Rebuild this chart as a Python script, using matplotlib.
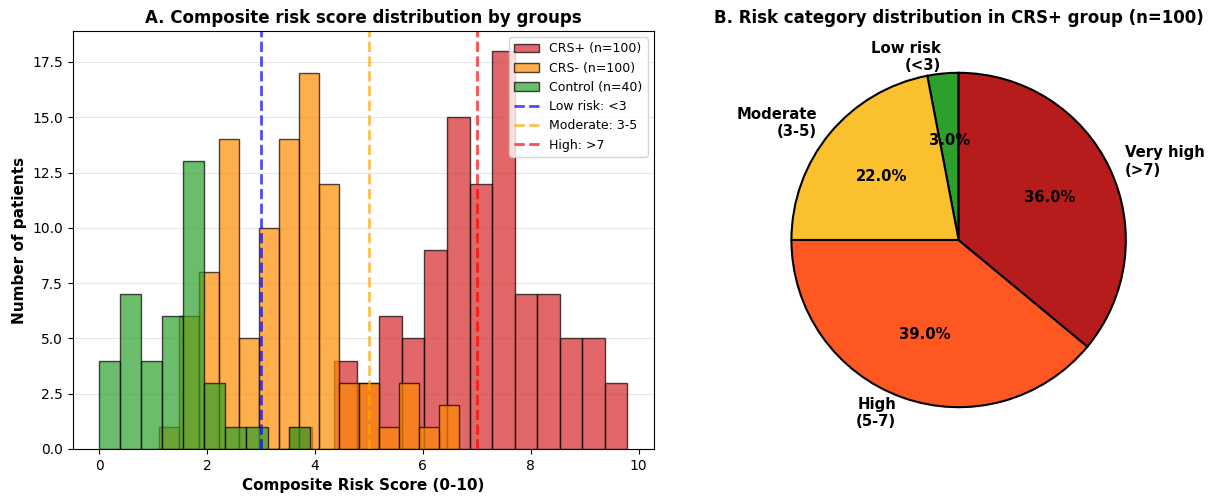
import matplotlib
matplotlib.use("Agg")
import matplotlib.pyplot as plt
import numpy as np

# histogram counts, with their bin ranges
crs_pos_counts = [1, 0, 4, 3, 6, 5, 9, 15, 12, 18, 7, 7, 5, 5, 3]
crs_pos_range = (3.52, 9.79)
crs_neg_counts = [1, 6, 8, 14, 5, 10, 14, 17, 12, 3, 3, 1, 3, 1, 2]
crs_neg_range = (1.11, 6.66)
control_counts = [4, 7, 4, 6, 13, 3, 1, 1, 0, 1]
control_range = (0.0, 3.9)

# thresholds
thresholds = [3, 5, 7]
threshold_labels = ["Low risk: <3", "Moderate: 3-5", "High: >7"]

# pie
pie_labels = ["Low risk\n(<3)", "Moderate\n(3-5)", "High\n(5-7)", "Very high\n(>7)"]
pie_values = [3, 22, 39, 36]
pie_colors = ["#2ca02c", "#fbc02d", "#ff5722", "#b71c1c"]

fig = plt.figure(figsize=(12.13, 4.97), dpi=100)
ax1 = fig.add_axes([0.06, 0.0966, 0.479, 0.841])
ax2 = fig.add_axes([0.618, 0.0966, 0.3446, 0.841])

groups = [
    (crs_pos_counts, crs_pos_range, "#d62728", "CRS+ (n=100)"),
    (crs_neg_counts, crs_neg_range, "darkorange", "CRS- (n=100)"),
    (control_counts, control_range, "#2ca02c", "Control (n=40)"),
]
for counts, rng, col, lab in groups:
    edges = np.linspace(rng[0], rng[1], len(counts) + 1)
    ax1.hist(edges[:-1], bins=edges, weights=counts, color=col, alpha=0.7,
             edgecolor="black", linewidth=1, label=lab)

for t, lab, col in zip(thresholds, threshold_labels, ["blue", "orange", "red"]):
    ax1.axvline(t, color=col, linestyle="--", linewidth=2, alpha=0.7, label=lab)

ax1.set_xlabel("Composite Risk Score (0-10)", fontsize=11, fontweight="bold")
ax1.set_ylabel("Number of patients", fontsize=11, fontweight="bold")
ax1.set_title("A. Composite risk score distribution by groups", fontsize=12, fontweight="bold")
ax1.grid(axis="y", alpha=0.3)
ax1.set_axisbelow(True)
ax1.legend(loc="upper right", fontsize=9)

wedges, texts, autotexts = ax2.pie(
    pie_values, labels=pie_labels, colors=pie_colors, autopct="%1.1f%%",
    startangle=90, wedgeprops=dict(edgecolor="black", linewidth=1.5),
    textprops=dict(fontsize=10.7, fontweight="bold"))
ax2.set_title("B. Risk category distribution in CRS+ group (n=100)", fontsize=12, fontweight="bold")

plt.savefig("out.png", dpi=100)
